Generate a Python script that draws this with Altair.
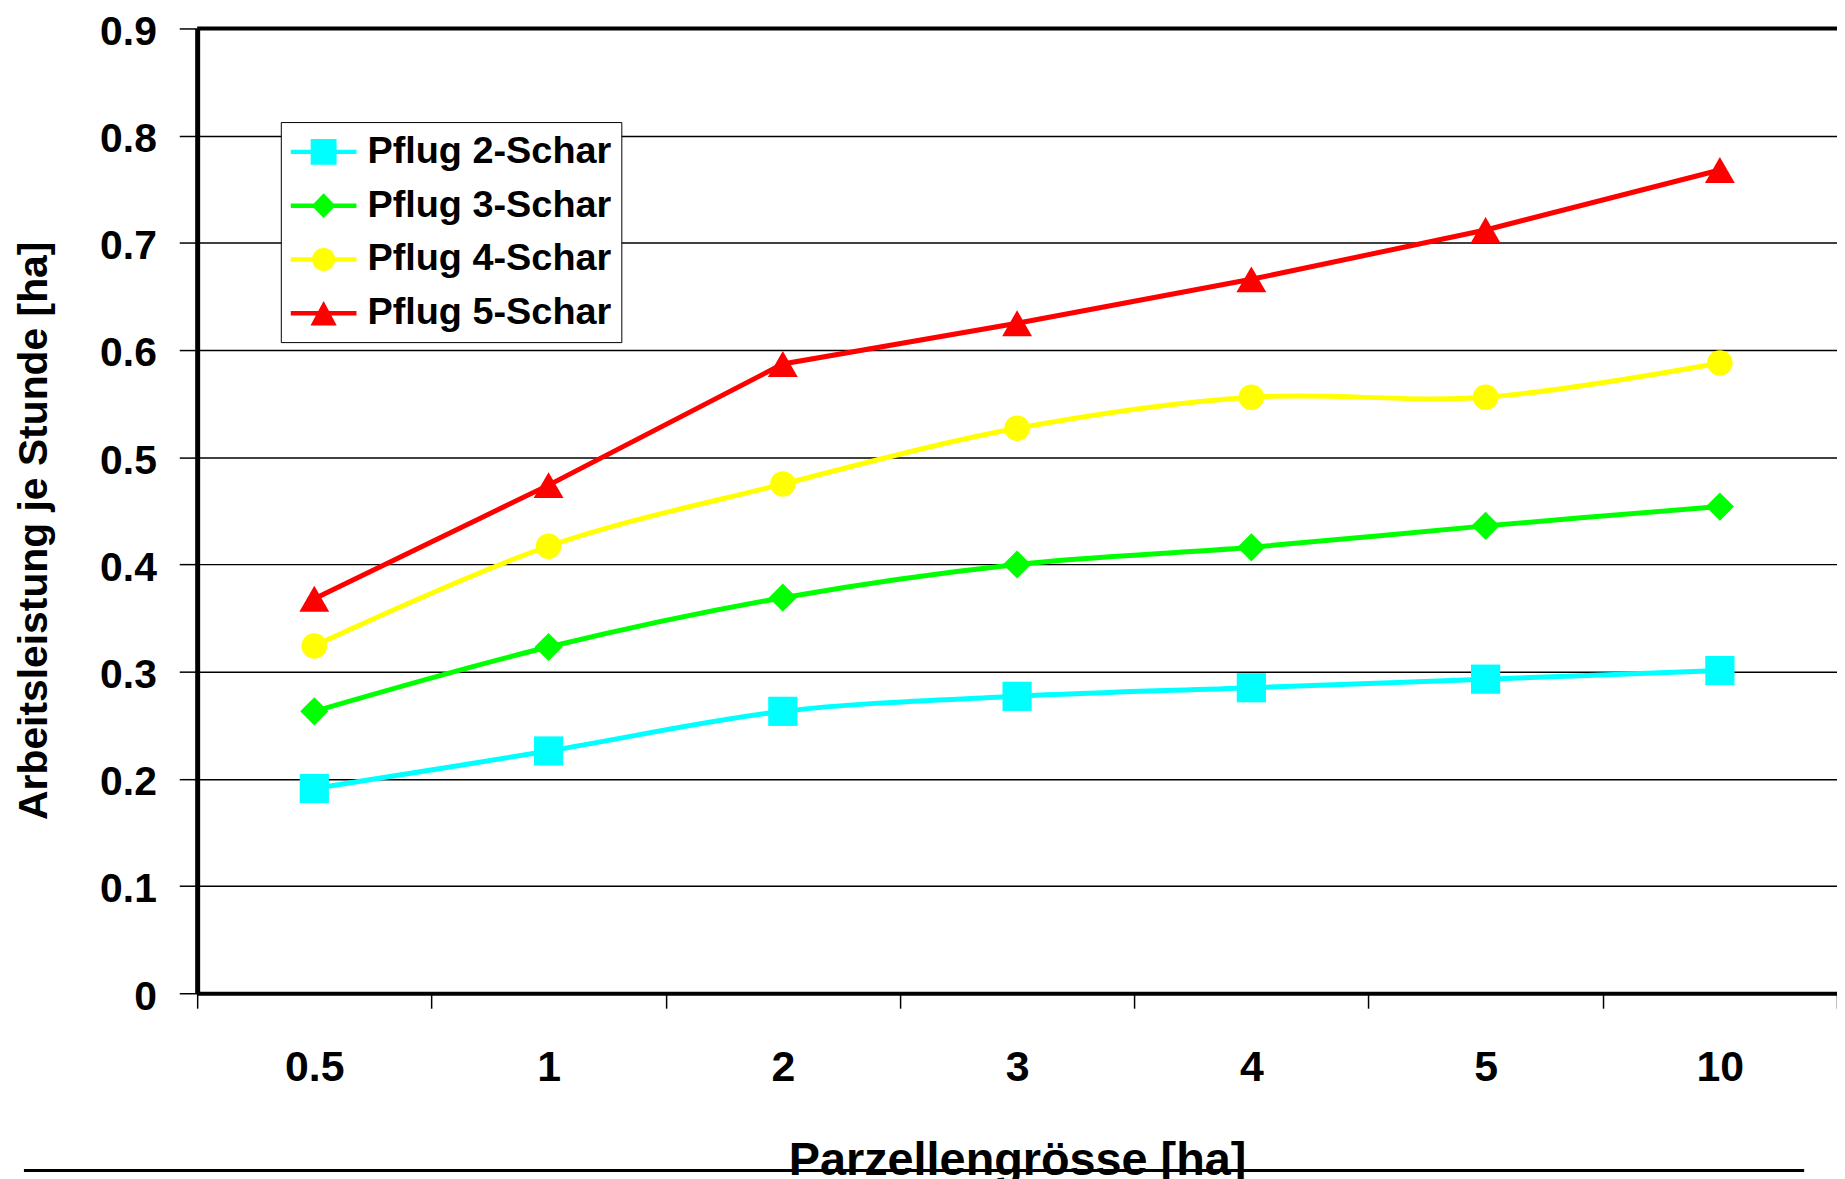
import altair as alt
import pandas as pd

# ---- data ----
sizes = ["0.5", "1", "2", "3", "4", "5", "10"]
series = ["Pflug 2-Schar", "Pflug 3-Schar", "Pflug 4-Schar", "Pflug 5-Schar"]
pflug2 = [0.191, 0.226, 0.263, 0.277, 0.285, 0.293, 0.301]
pflug3 = [0.263, 0.323, 0.369, 0.400, 0.416, 0.436, 0.454]
pflug4 = [0.324, 0.417, 0.475, 0.527, 0.556, 0.556, 0.588]
pflug5 = [0.368, 0.474, 0.587, 0.625, 0.666, 0.712, 0.768]
y_ticks = [0, 0.1, 0.2, 0.3, 0.4, 0.5, 0.6, 0.7, 0.8, 0.9]

# ---- styles ----
colors = ["#00FFFF", "#00FF00", "#FFFF00", "#FF0000"]
marker_shapes = ["square", "diamond", "circle", "triangle-up"]
marker_sizes = [860, 800, 660, 900]
line_bar = "M-1.65,-0.11H1.65V0.11H-1.65Z"
legend_paths = [
    line_bar + "M-0.65,-0.65H0.65V0.65H-0.65Z",
    line_bar + "M0,-0.62L0.6,0L0,0.62L-0.6,0Z",
    line_bar + "M-0.58,0A0.58,0.58,0,1,1,0.58,0A0.58,0.58,0,1,1,-0.58,0Z",
    line_bar + "M0,-0.62L0.66,0.62L-0.66,0.62Z",
]
FONT = "Liberation Sans"

rows = []
for name, vals, ms in zip(series, [pflug2, pflug3, pflug4, pflug5], marker_sizes):
    for s, v in zip(sizes, vals):
        rows.append({"size": s, "value": v, "series": name, "marker": name, "msize": ms})
df = pd.DataFrame(rows)

color_scale = alt.Scale(domain=series, range=colors)

xenc = alt.X(
    "size:N",
    sort=sizes,
    bandPosition=0.5,
    scale=alt.Scale(type="band", domain=sizes, paddingInner=0, paddingOuter=0),
    axis=alt.Axis(
        title="Parzellengrösse [ha]",
        tickBand="extent",
        labelAngle=0,
        grid=False,
        domainColor="black",
        domainWidth=4,
        tickColor="black",
        tickWidth=1.5,
        tickSize=15,
        labelFont=FONT,
        labelFontSize=43,
        labelFontWeight="bold",
        labelColor="black",
        labelBaseline="alphabetic",
        labelPadding=73,
        titleFont=FONT,
        titleFontSize=47,
        titleFontWeight="bold",
        titleColor="black",
        titleBaseline="alphabetic",
        titleY=182,
    ),
)
yenc = alt.Y(
    "value:Q",
    scale=alt.Scale(domain=[0, 0.9], nice=False, zero=True),
    axis=alt.Axis(
        title="Arbeitsleistung je Stunde [ha]",
        values=y_ticks,
        format=".1~f",
        grid=True,
        gridColor="black",
        gridWidth=1.5,
        domainColor="black",
        domainWidth=5,
        tickColor="black",
        tickWidth=1.5,
        tickSize=18,
        labelFont=FONT,
        labelFontSize=41,
        labelFontWeight="bold",
        labelColor="black",
        labelPadding=23,
        labelBaseline="alphabetic",
        labelOffset=16,
        labelFlush=False,
        titleFont=FONT,
        titleFontSize=41,
        titleFontWeight="bold",
        titleColor="black",
        titleAngle=270,
        titleBaseline="alphabetic",
        titleAlign="center",
        titleX=-151,
        titleY=504,
    ),
)

base = alt.Chart(df)

top_rule = alt.Chart(pd.DataFrame({"value": [0.9]})).mark_rule(
    color="black", strokeWidth=4
).encode(y=alt.Y("value:Q"))

smooth = base.transform_filter(alt.datum.series != "Pflug 5-Schar").mark_line(
    interpolate="catmull-rom", strokeWidth=5
).encode(x=xenc, y=yenc, color=alt.Color("series:N", scale=color_scale, legend=None),
         detail="series:N")

straight = base.transform_filter(alt.datum.series == "Pflug 5-Schar").mark_line(
    strokeWidth=5
).encode(x=xenc, y=yenc, color=alt.Color("series:N", scale=color_scale, legend=None))

points = base.mark_point(filled=True, opacity=1, strokeWidth=0).encode(
    x=xenc,
    y=yenc,
    color=alt.Color("series:N", scale=color_scale, legend=None),
    shape=alt.Shape("marker:N", scale=alt.Scale(domain=series, range=marker_shapes), legend=None),
    size=alt.Size("msize:Q", scale=None, legend=None),
)

leg = alt.Legend(
    title=None,
    orient="none",
    legendX=84,
    legendY=94,
    padding=10,
    labelFont=FONT,
    labelFontSize=38,
    labelFontWeight="bold",
    labelColor="black",
    labelLimit=600,
    labelOffset=24,
    symbolSize=1600,
    symbolOffset=13,
    symbolStrokeWidth=0,
    symbolOpacity=1,
    strokeColor="black",
    fillColor="white",
    rowPadding=15,
)
legend_layer = base.transform_filter("false").mark_point(filled=True, strokeWidth=0).encode(
    x=xenc,
    y=yenc,
    color=alt.Color("series:N", scale=color_scale, legend=leg),
    shape=alt.Shape("series:N", scale=alt.Scale(domain=series, range=legend_paths), legend=leg),
)

deco = alt.Chart(pd.DataFrame({"d": [0]})).mark_rule(color="black", strokeWidth=3).encode(
    x=alt.value(-174), x2=alt.value(1614), y=alt.value(1147)
)

chart = (
    alt.layer(top_rule, smooth, straight, points, legend_layer, deco)
    .resolve_scale(shape="independent", color="independent")
    .properties(
        width=1647,
        height=969,
        autosize=alt.AutoSizeParams(type="none"),
        padding={"left": 190, "top": 18, "right": 0, "bottom": 184},
        background="white",
    )
    .configure_view(stroke=None)
)

chart.save("out.html", embed_options={"renderer": "svg", "actions": False})
